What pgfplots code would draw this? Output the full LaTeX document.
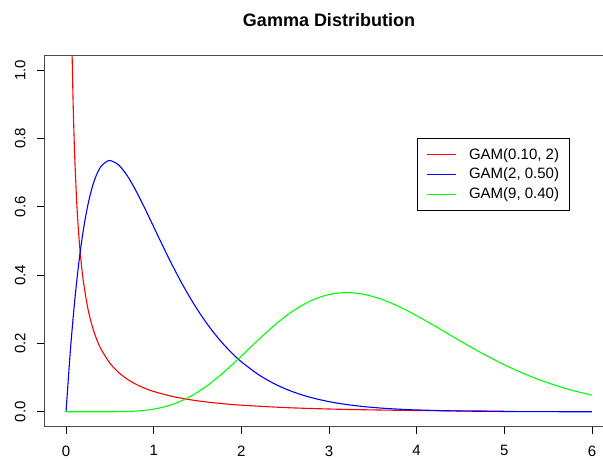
\documentclass[border=0pt]{standalone}
\usepackage{fontspec}
\setmainfont{Liberation Sans}
\usepackage{pgfplots}
\pgfplotsset{compat=1.18}

% Gamma densities, tabulated
\begin{document}
\begin{tikzpicture}[x=1pt,y=1pt]
\begin{axis}[
  at={(45pt,33pt)}, anchor=south west,
  width=568pt, height=370pt, scale only axis,
  xmin=-0.24, xmax=6.24, ymin=-0.0416, ymax=1.0416,
  axis line style={draw=black!70, line width=1pt},
  xtick={0,1,2,3,4,5,6},
  ytick={0,0.2,0.4,0.6,0.8,1.0},
  xtick pos=left, ytick pos=left,
  tick align=outside, major tick length=8pt,
  tick style={black, line width=0.8pt},
  /pgf/number format/assume math mode=true,
  yticklabel style={/pgf/number format/fixed, /pgf/number format/fixed zerofill, /pgf/number format/precision=1},
  ticklabel style={font=\fontsize{15}{15}\selectfont},
  xticklabel style={yshift=-8pt},
  yticklabel style={xshift=-8pt, rotate=90, anchor=south},
  legend style={at={(rel axis cs:0.6544,0.7784)}, anchor=north west,
    font=\fontsize{15}{15}\selectfont,
    inner xsep=10pt, inner ysep=10pt, row sep=7.5pt,
    nodes={inner sep=0pt},
    /tikz/every odd column/.append style={column sep=12pt}},
  legend cell align=left,
  legend image code/.code={\draw[mark repeat=2,mark phase=2,#1] plot coordinates {(0pt,0pt) (29pt,0pt)};},
]
\addplot[red, line width=1.1pt, smooth] table {
x y
0.06 1.1973
0.07 1.03697
0.08 0.91496
0.09 0.81882
0.10 0.74103
0.12 0.62264
0.14 0.53658
0.16 0.47110
0.18 0.41950
0.20 0.37775
0.25 0.30138
0.30 0.24946
0.35 0.21178
0.40 0.18316
0.50 0.14253
0.60 0.11506
0.70 0.09527
0.80 0.08036
0.90 0.06875
1.00 0.05948
1.20 0.04568
1.40 0.03598
1.60 0.02887
1.80 0.02349
2.00 0.01933
2.50 0.01232
3.00 0.00814
3.50 0.00552
4.00 0.00381
4.50 0.00267
5.00 0.00189
};
\addlegendentry{GAM(0.10, 2)}
\addplot[blue, line width=1.1pt, smooth] table {
x y
0.00 0
0.05 0.18097
0.10 0.32749
0.15 0.44449
0.20 0.53626
0.25 0.60653
0.30 0.65857
0.35 0.69522
0.40 0.71893
0.45 0.73003
0.50 0.73576
0.60 0.72287
0.70 0.69047
0.80 0.64607
0.90 0.59508
1.00 0.54134
1.10 0.48753
1.20 0.43545
1.30 0.38622
1.40 0.34054
1.50 0.29872
1.60 0.26088
1.70 0.22694
1.80 0.19673
1.90 0.17002
2.00 0.14653
2.20 0.10804
2.40 0.07901
2.60 0.05737
2.80 0.04142
3.00 0.02975
3.20 0.02127
3.40 0.01515
3.60 0.01075
3.80 0.00761
4.00 0.00537
4.50 0.00222
5.00 0.00091
5.50 0.00037
6.00 0.00001
};
\addlegendentry{GAM(2, 0.50)}
\addplot[green, line width=1.1pt, smooth] table {
x y
0.00 0
0.20 0
0.40 0.00002
0.60 0.00035
0.80 0.00215
1.00 0.00777
1.20 0.02025
1.40 0.04216
1.60 0.07443
1.80 0.11582
2.00 0.16320
2.20 0.21218
2.40 0.25815
2.60 0.29704
2.80 0.32594
3.00 0.34332
3.20 0.34897
3.40 0.34377
3.60 0.32939
3.80 0.30790
4.00 0.28150
4.20 0.25226
4.40 0.22199
4.60 0.19214
4.80 0.16381
5.00 0.13773
5.20 0.11432
5.40 0.09378
5.60 0.07609
5.80 0.06111
6.00 0.04861
};
\addlegendentry{GAM(9, 0.40)}
\end{axis}
\node[font=\bfseries\fontsize{18}{18}\selectfont, anchor=base] at (329pt,432pt) {Gamma Distribution};
\pgfresetboundingbox
\useasboundingbox (0pt,0pt) rectangle (603pt,459pt);
\end{tikzpicture}
\end{document}
